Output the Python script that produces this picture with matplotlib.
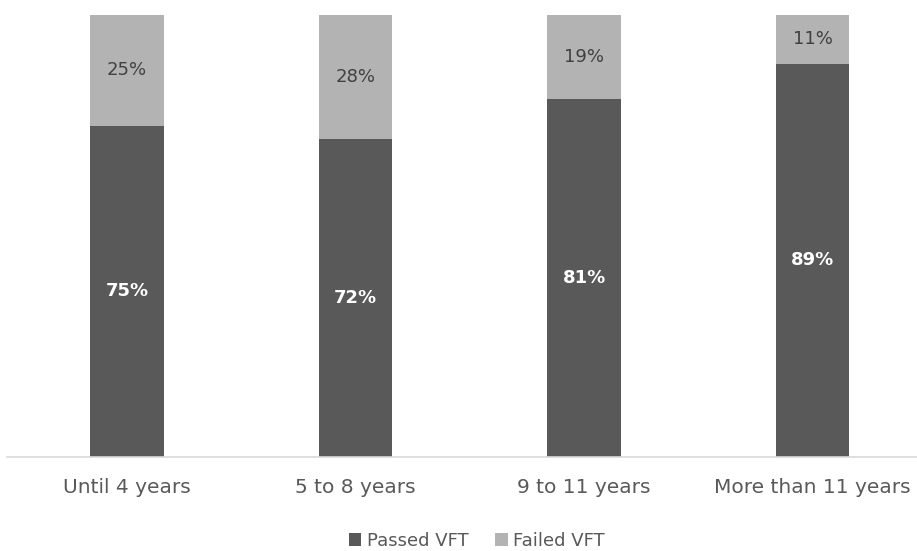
import matplotlib.pyplot as plt

categories = ['Until 4 years', '5 to 8 years', '9 to 11 years', 'More than 11 years']
passed = [75, 72, 81, 89]
failed = [25, 28, 19, 11]

DARK = '#595959'
LIGHT = '#b3b3b3'
TEXT = '#595959'

plt.rcParams['font.family'] = ['DejaVu Sans']

fig = plt.figure(figsize=(9.17, 5.51), dpi=100)
ax = fig.add_axes([7 / 917, 1 - 457 / 551, 910 / 917, 442 / 551])

x = range(len(categories))
width = 0.32
bars_p = ax.bar(x, passed, width, color=DARK, label='Passed VFT')
bars_f = ax.bar(x, failed, width, bottom=passed, color=LIGHT, label='Failed VFT')

for i, (p, f) in enumerate(zip(passed, failed)):
    ax.text(i, p / 2, f'{p}%', ha='center', va='center', color='white',
            fontsize=13, fontweight='bold')
    ax.text(i, p + f / 2, f'{f}%', ha='center', va='center', color='#404040',
            fontsize=13)

ax.set_xlim(-0.525, 3.457)
ax.set_ylim(0, 100)
ax.set_yticks([])
ax.set_xticks(list(x))
ax.set_xticklabels(categories, fontsize=14.5, color=TEXT)
ax.tick_params(axis='x', length=0, pad=15)
for side in ('left', 'right', 'top'):
    ax.spines[side].set_visible(False)
ax.spines['bottom'].set_color('#d9d9d9')
ax.spines['bottom'].set_linewidth(1.2)

fig.legend(handles=[bars_p, bars_f], loc='center', bbox_to_anchor=(0.52, 1 - 541 / 551),
           ncol=2, frameon=False, fontsize=13, labelcolor=TEXT,
           handlelength=0.7, handleheight=0.7, handletextpad=0.3, columnspacing=1.5)

fig.savefig('out.png', dpi=100)
